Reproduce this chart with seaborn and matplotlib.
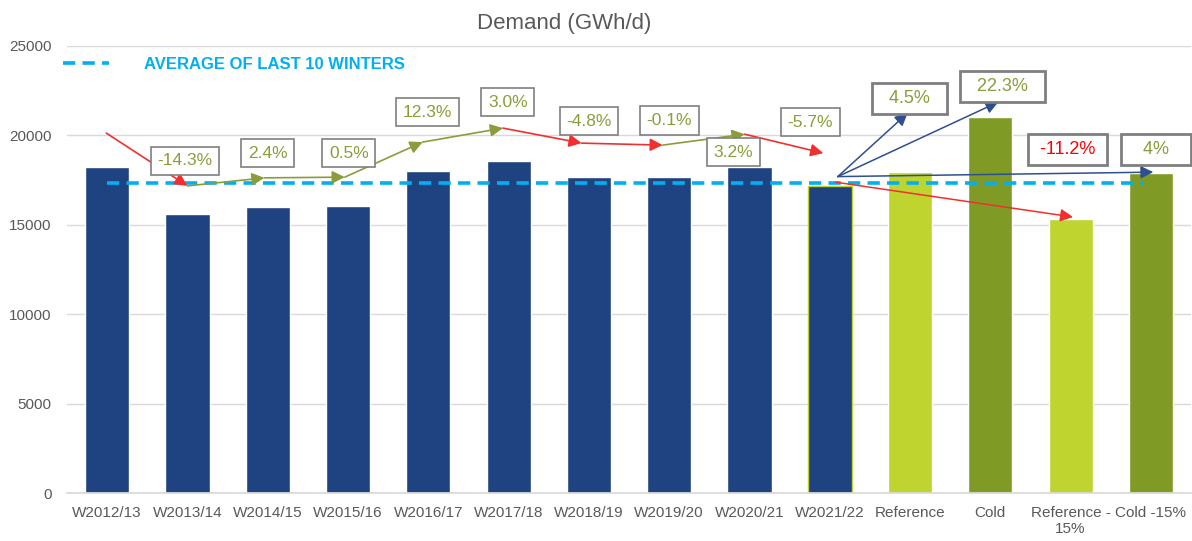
import matplotlib
matplotlib.use("Agg")
import matplotlib.pyplot as plt
from matplotlib.lines import Line2D
import seaborn as sns
import pandas as pd

# Bar data
winters = ["W2012/13", "W2013/14", "W2014/15", "W2015/16", "W2016/17", "W2017/18",
           "W2018/19", "W2019/20", "W2020/21", "W2021/22", "Reference", "Cold",
           "Reference -\n15%", "Cold -15%"]
demand = [18230, 15630, 15990, 16060, 18030, 18580, 17680, 17680, 18230, 17180,
          17950, 21030, 15310, 17900]
groups = ["history"] * 10 + ["ref", "cold", "ref", "cold"]
average_10 = 17330

# Trend arrows between winters (drawn above the bars)
trend_x = [-0.01, 1.0, 1.96, 2.96, 3.93, 4.93, 5.91, 6.92, 7.94, 8.92]
trend_y = [20130, 17180, 17630, 17670, 19630, 20410, 19570, 19460, 20070, 19010]

# Scenario arrows starting at W2021/22
scen_start = (9.1, 17700)
scen_end_x = [9.97, 11.10, 13.03, 12.03]
scen_end_y = [21250, 21870, 17950, 15440]
scen_colors = ["#2F4F8F", "#2F4F8F", "#2F4F8F", "#F03030"]

# Percentage change labels
change_labels = ["-14.3%", "2.4%", "0.5%", "12.3%", "3.0%", "-4.8%", "-0.1%", "3.2%",
                 "-5.7%", "  4.5%  ", "  22.3%  ", " -11.2% ", "   4%   "]
label_x = [0.97, 2.0, 3.01, 3.99, 4.99, 6.0, 7.0, 7.80, 8.76, 9.99, 11.15, 11.96, 13.06]
label_y = [18580, 19010, 19010, 21300, 21860, 20800, 20830, 19070, 20740, 22080, 22730,
           19210, 19210]

NAVY = "#1F4380"
LIGHT = "#C0D430"
OLIVE = "#7F9B25"
TXT_OLIVE = "#8B9D3B"
CYAN = "#00B0F0"
GREY = "#595959"

sns.set_theme(style="white")
plt.rcParams["font.family"] = ["Liberation Sans", "DejaVu Sans"]

df = pd.DataFrame({"Winter": winters, "Demand": demand, "Group": groups})

fig = plt.figure(figsize=(11.92, 5.41), dpi=100)
ax = fig.add_axes([0.0562, 0.0882, 0.943, 0.8268])

sns.barplot(data=df, x="Winter", y="Demand", hue="Group",
            palette={"history": NAVY, "ref": LIGHT, "cold": OLIVE},
            width=0.55, dodge=False, legend=False, ax=ax, saturation=1)

# thin outline on last historical bar
for p in ax.patches:
    if abs(p.get_x() + p.get_width() / 2 - 9) < 0.1:
        p.set_edgecolor(LIGHT)
        p.set_linewidth(1)

ax.set_xlim(-0.5, 13.5)
ax.set_ylim(0, 25000)
ax.set_yticks(range(0, 25001, 5000))
ax.set_xlabel("")
ax.set_ylabel("")
ax.yaxis.grid(True, color="#D9D9D9", lw=1)
ax.set_axisbelow(True)
for s in ["top", "right", "left"]:
    ax.spines[s].set_visible(False)
ax.spines["bottom"].set_color("#D9D9D9")
ax.tick_params(axis="y", length=0, pad=11, labelsize=11, labelcolor=GREY)
ax.tick_params(axis="x", length=0, pad=9, labelsize=11, labelcolor=GREY)

# average line
dash = (0, (3.4, 2))
ax.plot([0, 12.92], [average_10, average_10], color=CYAN, lw=2.6, ls=dash, zorder=4)

# trend arrows
for i in range(len(trend_x) - 1):
    col = TXT_OLIVE if trend_y[i + 1] > trend_y[i] else "#F03030"
    ax.annotate("", xy=(trend_x[i + 1], trend_y[i + 1]), xytext=(trend_x[i], trend_y[i]),
                arrowprops=dict(arrowstyle="-|>", color=col, lw=1.2, mutation_scale=19,
                                shrinkA=0, shrinkB=0), zorder=5)

# scenario arrows
for ex, ey, col in zip(scen_end_x, scen_end_y, scen_colors):
    start = scen_start if col != "#F03030" else (9.07, 17390)
    ax.annotate("", xy=(ex, ey), xytext=start,
                arrowprops=dict(arrowstyle="-|>", color=col, lw=1.1, mutation_scale=19,
                                shrinkA=0, shrinkB=0), zorder=5)

# labels
for i, (lab, lx, ly) in enumerate(zip(change_labels, label_x, label_y)):
    big = i >= 9
    col = "#FF0000" if "-11.2" in lab else TXT_OLIVE
    ax.text(lx, ly, lab, ha="center", va="center", fontsize=13 if big else 12.5, color=col,
            zorder=6,
            bbox=dict(boxstyle="square,pad=0.38", fc="white", ec="#7F7F7F",
                      lw=2.0 if big else 1.2))

# title
fig.text(0.473, 0.957, "Demand (GWh/d)", ha="center", va="center", fontsize=16, color=GREY)

# legend
handle = Line2D([], [], color=CYAN, lw=2.6, ls=dash)
fig.legend([handle], ["AVERAGE OF LAST 10 WINTERS"], loc="upper left",
           bbox_to_anchor=(63 / 1192, 1 - 57 / 541), frameon=False, borderpad=0,
           borderaxespad=0, handlelength=2.75, handletextpad=2.1, labelcolor=CYAN,
           prop={"weight": "bold", "size": 12})

fig.savefig("out.png", dpi=100)
